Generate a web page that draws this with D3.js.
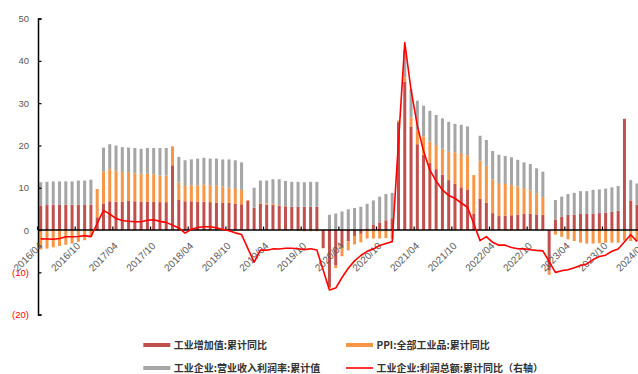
<!DOCTYPE html>
<html><head><meta charset="utf-8">
<script src="https://cdn.jsdelivr.net/npm/d3@7"></script>
<style>
html,body{margin:0;padding:0;background:#fff;}
svg{display:block;}
</style></head>
<body>
<svg id="chart" width="638" height="374"></svg>
<script>
// ---------- categories ----------
const months = [
 "2016/04","2016/05","2016/06","2016/07","2016/08","2016/09","2016/10","2016/11","2016/12",
 "2017/01","2017/02","2017/03","2017/04","2017/05","2017/06","2017/07","2017/08","2017/09","2017/10","2017/11","2017/12",
 "2018/01","2018/02","2018/03","2018/04","2018/05","2018/06","2018/07","2018/08","2018/09","2018/10","2018/11","2018/12",
 "2019/01","2019/02","2019/03","2019/04","2019/05","2019/06","2019/07","2019/08","2019/09","2019/10","2019/11","2019/12",
 "2020/01","2020/02","2020/03","2020/04","2020/05","2020/06","2020/07","2020/08","2020/09","2020/10","2020/11","2020/12",
 "2021/01","2021/02","2021/03","2021/04","2021/05","2021/06","2021/07","2021/08","2021/09","2021/10","2021/11","2021/12",
 "2022/01","2022/02","2022/03","2022/04","2022/05","2022/06","2022/07","2022/08","2022/09","2022/10","2022/11","2022/12",
 "2023/01","2023/02","2023/03","2023/04","2023/05","2023/06","2023/07","2023/08","2023/09","2023/10","2023/11","2023/12",
 "2024/01","2024/02","2024/03","2024/04"
];
const tickLabels = ["2016/04","2016/10","2017/04","2017/10","2018/04","2018/10","2019/04","2019/10",
 "2020/04","2020/10","2021/04","2021/10","2022/04","2022/10","2023/04","2023/10","2024/04"];
const leftTicks = [-20,-10,0,10,20,30,40,50];

// ---------- series (left axis, %) ----------
// 工业增加值:累计同比
const ivaCum = [
 5.8,5.9,6.0,6.0,6.0,6.0,6.0,6.0,6.0,
 3.0, 6.3,6.8,6.7,6.7,6.9,6.8,6.7,6.7,6.7,6.6,6.6,
 15.3, 7.1,6.8,6.8,6.7,6.7,6.6,6.5,6.4,6.4,6.2,6.1,
 6.9, 5.3,6.2,6.0,5.9,5.8,5.6,5.5,5.5,5.5,5.5,5.5,
 -4.3, -13.5,-8.4,-4.0,-2.7,-1.4,-0.9,0.4,1.2,1.8,2.3,2.8,
 25.5, 35.1,24.5,20.3,17.8,15.9,14.4,13.1,11.8,10.9,10.1,9.6,
 3.8, 7.4,6.5,4.0,3.3,3.4,3.5,3.6,3.9,3.8,3.7,3.6,
 -9.6, 2.4,3.1,3.6,3.6,3.8,3.8,3.9,4.0,4.1,4.3,4.6,
 26.3, 7.0,6.0, null
];
// PPI:全部工业品:累计同比
const ppiCum = [
 -4.6,-4.4,-4.1,-3.8,-3.5,-3.2,-2.8,-2.4,-1.6,
 6.7, 7.6,7.6,7.3,7.0,6.8,6.6,6.6,6.6,6.5,6.3,6.3,
 4.5, 4.1,3.6,3.8,3.8,4.0,4.0,4.1,3.9,3.6,3.5,3.4,
 0.2, 0.0,0.2,0.3,0.3,0.1,0.1,0.0,-0.2,-0.3,-0.3,-0.3,
 0.1, -0.2,-0.6,-2.2,-2.1,-2.0,-2.0,-2.0,-2.0,-2.0,-1.9,-2.0,
 0.4, 1.0,2.1,3.2,4.3,5.0,5.7,6.2,6.7,7.5,7.9,8.1,
 9.2, 9.0,8.7,8.0,7.8,7.5,7.1,6.7,6.0,5.6,4.9,4.2,
 -1.0, -1.1,-1.6,-2.2,-2.6,-3.0,-3.2,-3.2,-3.1,-3.0,-3.0,-3.0,
 -2.5, -2.6,-2.7, null
];
// 工业企业:营业收入利润率:累计值
const margin = [
 5.5,5.5,5.5,5.5,5.5,5.5,5.7,5.7,5.9,
 null, 5.6,5.9,6.0,5.9,5.8,6.0,5.9,6.1,6.2,6.5,6.5,
 null, 6.1,6.1,6.1,6.4,6.4,6.3,6.3,6.4,6.7,6.8,6.5,
 null, 4.7,5.3,5.4,5.8,6.1,5.9,5.9,5.9,5.8,5.9,5.9,
 null, 3.6,3.9,4.4,4.9,5.2,5.5,5.8,5.8,6.1,6.2,6.0,
 null, 6.4,6.7,7.1,7.3,7.3,7.1,7.1,7.1,6.7,6.9,6.8,
 null, 5.9,6.1,6.7,6.7,6.6,6.6,6.3,6.1,6.2,6.0,6.0,
 null, 4.7,4.8,4.9,5.2,5.4,5.4,5.6,5.6,5.7,5.8,5.8,
 null, 4.8,5.0, null
];
// 工业企业:利润总额:累计同比 (right axis, %)
const profitCum = [
 6.5,6.4,6.2,6.9,8.4,8.4,8.6,9.4,8.5,
 null, 31.5,28.3,24.4,22.7,22.0,21.6,21.6,22.8,23.3,21.9,21.0,
 null, 16.1,11.6,15.0,16.5,17.2,17.1,16.2,14.7,13.6,11.8,10.3,
 null, -14.0,-3.3,-3.4,-2.3,-2.4,-1.7,-1.7,-2.1,-2.9,-2.1,-3.3,
 null, -38.3,-36.7,-27.4,-19.3,-12.8,-8.1,-4.4,-2.4,0.7,2.4,4.1,
 null, 178.9,137.3,106.0,83.4,66.9,57.3,49.5,44.7,42.2,38.0,34.3,
 null, 5.0,8.5,3.5,1.0,1.0,-1.1,-2.1,-2.3,-3.0,-3.6,-4.0,
 null, -22.9,-21.4,-20.6,-18.8,-16.8,-15.5,-11.7,-9.0,-7.8,-4.4,-2.3,
 null, 10.2,4.3, null
];
const seriesNames = ["工业增加值:累计同比","PPI:全部工业品:累计同比","工业企业:营业收入利润率:累计值","工业企业:利润总额:累计同比（右轴）"];
const colors = {iva:"#C0504D", ppi:"#F79646", margin:"#A5A5A5", profit:"#FF0000"};

// ---------- layout ----------
const svg = d3.select("#chart");
svg.append("rect").attr("width",638).attr("height",374).attr("fill","#fff");

const step = 6.277, x0 = 37.56;
const x = d3.scaleBand().domain(months).range([x0, x0 + step*months.length]).padding(0);
const y = d3.scaleLinear().domain([-20,50]).range([314.6,18.6]);
const yR = d3.scaleLinear().domain([-60,200]).range([314.6,18.6]);
const cx = m => x(m) + x.bandwidth()/2;
const barW = 3;

const rows = months.map((m,i)=>({month:m, iva:ivaCum[i]??0, ppi:ppiCum[i]??0, margin:margin[i]??0}));
const stack = d3.stack().keys(["iva","ppi","margin"]).offset(d3.stackOffsetDiverging)(rows);

const gBars = svg.append("g");
stack.forEach(layer=>{
  gBars.selectAll(null).data(layer.filter(d=>d[1]!==d[0])).enter().append("rect")
    .attr("x", d=>cx(d.data.month)-barW/2)
    .attr("width", barW)
    .attr("y", d=>y(Math.max(d[0],d[1])))
    .attr("height", d=>Math.abs(y(d[0])-y(d[1])))
    .attr("fill", colors[layer.key]);
});

// left axis
const yAxis = d3.axisLeft(y).tickValues(leftTicks).tickSize(-3.5).tickPadding(9)
  .tickFormat(v=> v<0 ? "("+Math.abs(v)+")" : String(v));
const gy = svg.append("g").attr("transform","translate(38,0)").call(yAxis);
gy.select(".domain").attr("stroke","#000").attr("stroke-width",1.5);
gy.selectAll(".tick line").attr("stroke","#000").attr("stroke-width",1.2);
gy.selectAll(".tick text").attr("font-family","'Liberation Sans', Arial, sans-serif").attr("font-size",9.5)
  .attr("fill", d=> d<0 ? "#FF0000" : "#595959");

// zero (category) axis
svg.append("line").attr("x1",38).attr("x2",646).attr("y1",y(0)).attr("y2",y(0))
  .attr("stroke","#000").attr("stroke-width",1.5);
const gx = svg.append("g");
gx.selectAll("line.xt").data(tickLabels).enter().append("line")
  .attr("x1",d=>x(d)).attr("x2",d=>x(d)).attr("y1",y(0)).attr("y2",y(0)-3.5)
  .attr("stroke","#000").attr("stroke-width",1.2);
gx.selectAll("text").data(tickLabels).enter().append("text")
  .attr("transform", d=>`translate(${cx(d)+2.5},${y(0)+16.5}) rotate(-45)`)
  .attr("text-anchor","end")
  .attr("font-family","'Liberation Sans', Arial, sans-serif").attr("font-size",10)
  .attr("fill","#595959").text(d=>d);

// profit line (right axis scale)
const linePts = months.map((m,i)=>({m, v:profitCum[i]})).filter(d=>d.v!==null);
svg.append("path").datum(linePts)
  .attr("d", d3.line().x(d=>cx(d.m)).y(d=>yR(d.v)))
  .attr("fill","none").attr("stroke",colors.profit).attr("stroke-width",1.6).attr("stroke-linejoin","round");

// legend
const lg = svg.append("g").attr("font-family","'Noto Sans CJK SC', sans-serif").attr("font-size",10)
  .attr("font-weight","bold").attr("fill","#333");
const items = [
  {name:seriesNames[0], c:colors.iva, type:"rect", x:143.3, y:345},
  {name:seriesNames[1], c:colors.ppi, type:"rect", x:346, y:345},
  {name:seriesNames[2], c:colors.margin, type:"rect", x:143.3, y:368},
  {name:seriesNames[3], c:colors.profit, type:"line", x:346, y:368}
];
items.forEach(it=>{
  if(it.type==="rect") lg.append("rect").attr("x",it.x).attr("y",it.y-2).attr("width",27).attr("height",4).attr("fill",it.c);
  else lg.append("line").attr("x1",it.x).attr("x2",it.x+27).attr("y1",it.y).attr("y2",it.y).attr("stroke",it.c).attr("stroke-width",1.6);
  lg.append("text").attr("x",it.x+30.5).attr("y",it.y).attr("dy","0.35em").text(it.name);
});
</script>
</body></html>
